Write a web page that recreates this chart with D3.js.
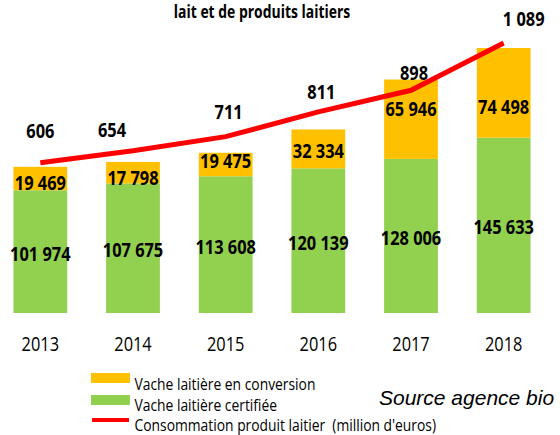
<!DOCTYPE html>
<html>
<head>
<meta charset="utf-8">
<script src="https://cdn.jsdelivr.net/npm/d3@7"></script>
<style>
  html, body { margin: 0; background: #fff; overflow: hidden; }
  svg { display: block; }
  text { font-family: "Open Sans", Calibri, sans-serif; fill: #000; white-space: pre; }
</style>
</head>
<body>
<svg id="chart" width="560" height="435"></svg>
<script>
const years = ['2013', '2014', '2015', '2016', '2017', '2018'];
const certifiee = [101974, 107675, 113608, 120139, 128006, 145633];
const conversion = [19469, 17798, 19475, 32334, 65946, 74498];
const consommation = [606, 654, 711, 811, 898, 1089];
const legendLabels = [
  'Vache laitière en conversion',
  'Vache laitière certifiée',
  'Consommation produit laitier  (million d\'euros)'
];
const titleText = 'lait et de produits laitiers';
const sourceText = 'Source agence bio';

const colors = { conversion: '#FFC000', certifiee: '#92D050', line: '#FF0000' };

// label nudges (px), the source chart places some labels by hand
const convNudge = [4, 5, -4, 2, -10, 14];
const lineNudge = [[0, -32], [-21, -21], [3, -25], [3, -20], [3, -17], [20, -24]];

const squeeze = 0.82; // the source text is horizontally narrow
const svg = d3.select('#chart');
const baseY = 313;

const fr = d3.formatLocale({ decimal: ',', thousands: ' ', grouping: [3], currency: ['', ''] }).format(',');

const x = d3.scaleBand().domain(years).range([-6, 550]).paddingInner(0.42).paddingOuter(0.21);
const y = d3.scaleLinear().domain([0, 260000]).range([baseY, 0]);
const yLine = d3.scaleLinear().domain([0, 1262]).range([baseY, 0]);

const rows = years.map((yr, i) => ({ year: yr, certifiee: certifiee[i], conversion: conversion[i] }));
const stack = d3.stack().keys(['certifiee', 'conversion'])(rows);

function putText(g, tx, ty, str, opts) {
  const t = g.append('g')
    .attr('transform', `translate(${tx},${ty}) scale(${opts.sx || squeeze},1)`)
    .append('text')
    .attr('text-anchor', opts.anchor || 'middle')
    .attr('dy', opts.dy || '0.35em')
    .style('font-size', opts.size + 'px')
    .style('font-weight', opts.weight || 'normal')
    .text(str);
  if (opts.family) t.style('font-family', opts.family);
  if (opts.italic) t.style('font-style', 'italic');
  return t;
}

// title (first line is cut off in the source image)
putText(svg, 262, 12, titleText, { size: 17, weight: 'bold', dy: 0 });

// stacked bars
svg.append('g').selectAll('g')
  .data(stack)
  .join('g')
  .attr('fill', d => colors[d.key])
  .selectAll('rect')
  .data(d => d)
  .join('rect')
  .attr('x', d => x(d.data.year))
  .attr('y', d => y(d[1]))
  .attr('width', x.bandwidth())
  .attr('height', d => y(d[0]) - y(d[1]));

// bar labels
const labels = svg.append('g');
stack.forEach(layer => {
  layer.forEach((d, i) => {
    const cy = (y(d[0]) + y(d[1])) / 2 + (layer.key === 'conversion' ? convNudge[i] : 2);
    putText(labels, x(d.data.year) + x.bandwidth() / 2, cy, fr(d.data[layer.key]), { size: 20, weight: 'bold' });
  });
});

// consumption line
const cx = yr => x(yr) + x.bandwidth() / 2;
const line = d3.line().x((d, i) => cx(years[i])).y(d => yLine(d));
svg.append('path')
  .datum(consommation)
  .attr('d', line)
  .attr('fill', 'none')
  .attr('stroke', colors.line)
  .attr('stroke-width', 5);

consommation.forEach((v, i) => {
  putText(labels, cx(years[i]) + lineNudge[i][0], yLine(v) + lineNudge[i][1], fr(v), { size: 20, weight: 'bold' });
});

// x axis labels
years.forEach(yr => putText(svg, cx(yr), 344, yr, { size: 20 }));

// legend
const legend = svg.append('g').attr('transform', 'translate(0,-4)');
legend.append('rect').attr('x', 91).attr('y', 377).attr('width', 39).attr('height', 10).attr('fill', colors.conversion);
legend.append('rect').attr('x', 91).attr('y', 399).attr('width', 39).attr('height', 10).attr('fill', colors.certifiee);
legend.append('line').attr('x1', 92).attr('x2', 129).attr('y1', 424).attr('y2', 424)
  .attr('stroke', colors.line).attr('stroke-width', 4);
[388, 409.5, 429.5].forEach((by, i) => putText(legend, 134.5, by, legendLabels[i], { size: 16.5, anchor: 'start', dy: 0, sx: 0.84 }));

putText(svg, 379, 398, sourceText, { size: 21, anchor: 'start', dy: 0, sx: 1, italic: true, family: '"Liberation Sans", Arial, sans-serif' });
</script>
</body>
</html>
